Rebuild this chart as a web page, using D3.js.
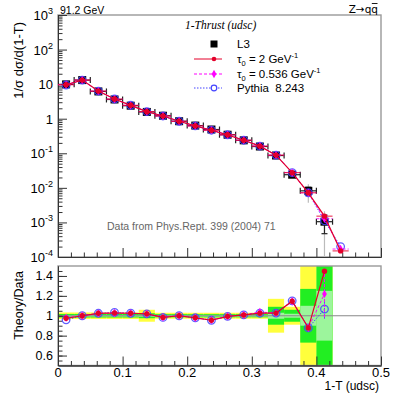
<!DOCTYPE html>
<html>
<head>
<meta charset="utf-8">
<script src="https://cdn.jsdelivr.net/npm/d3@7"></script>
<style>
  body { margin: 0; background: #fff; }
  text { font-family: "Liberation Sans", Arial, sans-serif; fill: #000; }
</style>
</head>
<body>
<div id="chart"></div>
<script>
// bin centres of 1-T (bin width 0.025)
const binCentres = [0.0125, 0.0375, 0.0625, 0.0875, 0.1125, 0.1375, 0.1625, 0.1875, 0.2125,
  0.2375, 0.2625, 0.2875, 0.3125, 0.3375, 0.3625, 0.3875, 0.4125];
const theoryCentres = binCentres.concat([0.4375]);
const binWidth = 0.025;

// L3 data
const dataValues = [9.85, 13.1, 6.15, 3.6, 2.38, 1.57, 1.22, 0.845, 0.633,
  0.487, 0.344, 0.237, 0.157, 0.0862, 0.024, 0.0082, 0.00105];
// relative uncertainty bands (inner / middle / outer)
const errInner = [0.008, 0.008, 0.008, 0.008, 0.008, 0.01, 0.008, 0.008, 0.008,
  0.008, 0.008, 0.008, 0.008, 0.03, 0.02, 0.1, 0.25];
const errMid = [0.018, 0.018, 0.018, 0.018, 0.018, 0.025, 0.016, 0.016, 0.016,
  0.016, 0.016, 0.016, 0.016, 0.09, 0.06, 0.27, 0.55];
const errOuter = [0.033, 0.033, 0.033, 0.033, 0.033, 0.06, 0.03, 0.03, 0.03,
  0.03, 0.03, 0.03, 0.03, 0.17, 0.09, 0.55, 1.0];

// predictions
const tau2 = [9.6, 13.1, 6.3, 3.7, 2.44, 1.6, 1.2, 0.845, 0.62,
  0.465, 0.342, 0.239, 0.161, 0.0885, 0.0275, 0.0072, 0.00152, 0.00015];
const tau0536 = [9.65, 13.1, 6.3, 3.7, 2.44, 1.6, 1.2, 0.845, 0.62,
  0.466, 0.342, 0.239, 0.163, 0.0885, 0.0275, 0.0072, 0.00128, 0.00017];
const pythia = [9.45, 13.1, 6.3, 3.72, 2.44, 1.6, 1.2, 0.845, 0.62,
  0.465, 0.342, 0.239, 0.161, 0.0885, 0.0276, 0.0072, 0.00112, 0.0002];
// ratio-panel error bars of the predictions
const tau0536Err = [0, 0, 0, 0, 0, 0, 0, 0, 0, 0, 0, 0, 0, 0, 0, 0, 0.25];
const pythiaErr = [0, 0, 0, 0, 0, 0, 0, 0, 0, 0, 0, 0, 0, 0, 0, 0, 0.1];

const mainYTicks = [1e3, 1e2, 1e1, 1, 1e-1, 1e-2, 1e-3, 1e-4];
const mainYLabels = [['10', '3'], ['10', '2'], ['10', ''], ['1', ''], ['10', '-1'], ['10', '-2'], ['10', '-3'], ['10', '-4']];
const xTicks = [0, 0.1, 0.2, 0.3, 0.4, 0.5];
const xTickLabels = ['0', '0.1', '0.2', '0.3', '0.4', '0.5'];
const ratioTicks = [1.4, 1.2, 1, 0.8, 0.6];
const ratioTickLabels = ['1.4', '1.2', '1', '0.8', '0.6'];

const width = 399;
const height = 399;
const left = 58;
const right = 381;
const mainTop = 15;
const mainBottom = 257;
const ratioTop = 266;
const ratioBottom = 365.5;

const red = '#e4002b';
const magenta = '#ff00ff';
const blue = '#4444ff';

const svg = d3.select('#chart').append('svg')
  .attr('width', width)
  .attr('height', height);

const x = d3.scaleLinear().domain([0, 0.5]).range([left, right]);
const y = d3.scaleLog().domain([1e-4, 1e3]).range([mainBottom, mainTop]);
const yr = d3.scaleLinear().domain([0.5, 1.5]).range([ratioBottom, ratioTop]);

svg.append('clipPath').attr('id', 'clipMain')
  .append('rect').attr('x', left).attr('y', mainTop)
  .attr('width', right - left).attr('height', mainBottom - mainTop);
svg.append('clipPath').attr('id', 'clipRatio')
  .append('rect').attr('x', left).attr('y', ratioTop)
  .attr('width', right - left).attr('height', ratioBottom - ratioTop);

/* ---------- ratio panel bands ---------- */
const ratioG = svg.append('g').attr('clip-path', 'url(#clipRatio)');
const bandDefs = [[errOuter, '#ffff3c'], [errMid, '#22ee22'], [errInner, '#9cf59c']];
bandDefs.forEach(([errs, col]) => {
  ratioG.selectAll(null).data(binCentres).enter().append('rect')
    .attr('x', (d) => x(d - binWidth / 2))
    .attr('width', x(binWidth) - x(0))
    .attr('y', (d, i) => yr(1 + errs[i]))
    .attr('height', (d, i) => yr(1 - errs[i]) - yr(1 + errs[i]))
    .attr('fill', col);
});
ratioG.append('line')
  .attr('x1', left).attr('x2', right).attr('y1', yr(1)).attr('y2', yr(1))
  .attr('stroke', '#888').attr('stroke-width', 1);

/* ---------- frames ---------- */
[[mainTop, mainBottom], [ratioTop, ratioBottom]].forEach(([t, b]) => {
  svg.append('rect').attr('x', left).attr('y', t)
    .attr('width', right - left).attr('height', b - t)
    .attr('fill', 'none').attr('stroke', '#999').attr('stroke-width', 1.4);
});

/* ---------- axes ---------- */
function minorLog() {
  const out = [];
  for (let e = -4; e < 3; e += 1) {
    for (let k = 2; k <= 9; k += 1) out.push(k * 10 ** e);
  }
  return out;
}
function tickAxis(axis, tx, ty) {
  const g = svg.append('g').attr('transform', `translate(${tx},${ty})`).call(axis);
  g.select('.domain').attr('stroke', '#333');
  g.selectAll('.tick line').attr('stroke', '#333');
  return g;
}
tickAxis(d3.axisRight(y).tickValues(mainYTicks).tickSize(9).tickSizeOuter(0).tickFormat(''), left, 0);
tickAxis(d3.axisRight(y).tickValues(minorLog()).tickSize(4.5).tickSizeOuter(0).tickFormat(''), left, 0);
const xMinor = d3.range(0.02, 0.5, 0.02).filter((v) => Math.abs(v * 10 - Math.round(v * 10)) > 1e-6);
[mainBottom, ratioBottom].forEach((b) => {
  tickAxis(d3.axisTop(x).tickValues(xTicks).tickSize(9).tickSizeOuter(0).tickFormat(''), 0, b);
  tickAxis(d3.axisTop(x).tickValues(xMinor).tickSize(4.5).tickSizeOuter(0).tickFormat(''), 0, b);
});
tickAxis(d3.axisRight(yr).tickValues(ratioTicks).tickSize(9).tickSizeOuter(0).tickFormat(''), left, 0);
tickAxis(d3.axisRight(yr).tickValues(d3.range(0.55, 1.5, 0.05)).tickSize(4.5).tickSizeOuter(0).tickFormat(''), left, 0);

// tick labels
mainYTicks.forEach((v, i) => {
  const t = svg.append('text').attr('x', 53).attr('y', y(v) + 5)
    .attr('text-anchor', 'end').style('font-size', '13px');
  t.append('tspan').text(mainYLabels[i][0]);
  if (mainYLabels[i][1]) {
    t.append('tspan').attr('dy', -6).style('font-size', '9px').text(mainYLabels[i][1]);
  }
});
ratioTicks.forEach((v, i) => {
  svg.append('text').attr('x', 53).attr('y', yr(v) + 4.5)
    .attr('text-anchor', 'end').style('font-size', '12.5px').text(ratioTickLabels[i]);
});
xTicks.forEach((v, i) => {
  svg.append('text').attr('x', x(v)).attr('y', 376.5)
    .attr('text-anchor', 'middle').style('font-size', '13px').text(xTickLabels[i]);
});

// titles
svg.append('text').attr('transform', 'translate(23,22) rotate(-90)')
  .attr('text-anchor', 'end').style('font-size', '13px').text('1/σ dσ/d(1-T)');
svg.append('text').attr('transform', 'translate(23,271) rotate(-90)')
  .attr('text-anchor', 'end').style('font-size', '12.5px').text('Theory/Data');
svg.append('text').attr('x', 379).attr('y', 389.5)
  .attr('text-anchor', 'end').style('font-size', '12px').text('1-T (udsc)');
svg.append('text').attr('x', 60).attr('y', 13.5).style('font-size', '10.5px').text('91.2 GeV');
const zt = svg.append('text').attr('x', 378).attr('y', 13).attr('text-anchor', 'end')
  .style('font-family', '"DejaVu Sans", sans-serif').style('font-size', '10.5px').text('Z→qq');
const qLen = zt.node().getSubStringLength(3, 1);
svg.append('line').attr('x1', 378 - qLen + 0.5).attr('x2', 378 - 0.5)
  .attr('y1', 3.5).attr('y2', 3.5).attr('stroke', '#000').attr('stroke-width', 0.9);
svg.append('text').attr('x', 185).attr('y', 29)
  .style('font-family', '"Liberation Serif", serif').style('font-style', 'italic')
  .style('font-size', '11.5px').text('1-Thrust (udsc)');
svg.append('text').attr('x', 107).attr('y', 230).style('font-size', '10.5px')
  .style('fill', '#666').text('Data from Phys.Rept. 399 (2004) 71');

/* ---------- main panel ---------- */
const mainG = svg.append('g').attr('clip-path', 'url(#clipMain)');
const half = x(binWidth / 2) - x(0);
const safeY = (v) => (v > 1e-5 ? y(v) : mainBottom + 10);

// total error (gray)
mainG.selectAll(null).data(binCentres).enter().append('line')
  .attr('x1', (d) => x(d)).attr('x2', (d) => x(d))
  .attr('y1', (d, i) => safeY(dataValues[i] * (1 + errOuter[i])))
  .attr('y2', (d, i) => safeY(dataValues[i] * (1 - errOuter[i])))
  .attr('stroke', '#bbb').attr('stroke-width', 1.2);
// stat error (black) with caps
const errG = mainG.append('g').attr('stroke', '#222').attr('stroke-width', 1.2);
binCentres.forEach((d, i) => {
  const cx = x(d);
  const cy = y(dataValues[i]);
  const y1 = safeY(dataValues[i] * (1 + errMid[i]));
  const y2 = safeY(dataValues[i] * (1 - errMid[i]));
  errG.append('line').attr('x1', cx).attr('x2', cx).attr('y1', y1).attr('y2', y2);
  errG.append('line').attr('x1', cx - 3).attr('x2', cx + 3).attr('y1', y1).attr('y2', y1);
  errG.append('line').attr('x1', cx - 3).attr('x2', cx + 3).attr('y1', y2).attr('y2', y2);
  errG.append('line').attr('x1', cx - half).attr('x2', cx + half).attr('y1', cy).attr('y2', cy);
  errG.append('line').attr('x1', cx - half).attr('x2', cx - half).attr('y1', cy - 3).attr('y2', cy + 3);
  errG.append('line').attr('x1', cx + half).attr('x2', cx + half).attr('y1', cy - 3).attr('y2', cy + 3);
});
mainG.selectAll(null).data(binCentres).enter().append('rect')
  .attr('x', (d) => x(d) - 4).attr('y', (d, i) => y(dataValues[i]) - 4)
  .attr('width', 8).attr('height', 8).attr('fill', '#000');

const line = (yScale, vals) => d3.line()
  .x((d) => x(d))
  .y((d, i) => yScale(vals[i]));

function drawSeries(g, yScale, xs, vals, errs, opts) {
  const sg = g.append('g');
  sg.append('path').datum(xs)
    .attr('d', line(yScale, vals))
    .attr('fill', 'none').attr('stroke', opts.color).attr('stroke-width', opts.width)
    .attr('stroke-dasharray', opts.dash);
  if (opts.hbars) {
    xs.forEach((d, i) => {
      const cy = yScale(vals[i]);
      sg.append('line').attr('x1', x(d) - half).attr('x2', x(d) + half).attr('y1', cy).attr('y2', cy)
        .attr('stroke', opts.color).attr('stroke-width', 0.9).attr('stroke-dasharray', opts.dash);
    });
  }
  if (errs) {
    xs.forEach((d, i) => {
      if (!errs[i]) return;
      sg.append('line').attr('x1', x(d)).attr('x2', x(d))
        .attr('y1', yScale(vals[i] + errs[i])).attr('y2', yScale(vals[i] - errs[i]))
        .attr('stroke', opts.color).attr('stroke-width', 1).attr('stroke-dasharray', opts.dash);
    });
  }
  const pts = sg.selectAll(null).data(xs).enter();
  if (opts.marker === 'circle') {
    pts.append('circle').attr('cx', (d) => x(d)).attr('cy', (d, i) => yScale(vals[i]))
      .attr('r', 2.7).attr('fill', red);
  } else if (opts.marker === 'open') {
    pts.append('circle').attr('cx', (d) => x(d)).attr('cy', (d, i) => yScale(vals[i]))
      .attr('r', 3.8).attr('fill', 'none').attr('stroke', opts.color).attr('stroke-width', 1.3)
      .attr('stroke-opacity', 0.85);
  } else {
    pts.append('path')
      .attr('transform', (d, i) => `translate(${x(d)},${yScale(vals[i])})`)
      .attr('d', d3.symbol(d3.symbolDiamond, 20))
      .attr('fill', opts.color);
  }
}

drawSeries(mainG, y, theoryCentres, pythia, null,
  { color: blue, width: 1, dash: '1.5,1.5', marker: 'open', hbars: false });
drawSeries(mainG, y, theoryCentres, tau0536, null,
  { color: magenta, width: 1, dash: '3,2', marker: 'diamond', hbars: true });
drawSeries(mainG, y, theoryCentres, tau2, null,
  { color: red, width: 1.2, dash: null, marker: 'circle', hbars: true });

/* ---------- ratio panel points ---------- */
const ratioOf = (vals) => binCentres.map((d, i) => vals[i] / dataValues[i]);
const rG = svg.append('g').attr('clip-path', 'url(#clipRatio)');
drawSeries(rG, yr, binCentres, ratioOf(pythia), pythiaErr,
  { color: blue, width: 1, dash: '1.5,1.5', marker: 'open', hbars: false });
drawSeries(rG, yr, binCentres, ratioOf(tau0536), tau0536Err,
  { color: magenta, width: 1, dash: '3,2', marker: 'diamond', hbars: false });
drawSeries(rG, yr, binCentres, ratioOf(tau2), null,
  { color: red, width: 1.2, dash: null, marker: 'circle', hbars: false });

/* ---------- legend ---------- */
const legendRows = [44, 59, 74, 88];
const lg = svg.append('g');
lg.append('rect').attr('x', 210.5).attr('y', legendRows[0] - 3.5).attr('width', 7).attr('height', 7).attr('fill', '#000');
lg.append('line').attr('x1', 194).attr('x2', 222).attr('y1', legendRows[1]).attr('y2', legendRows[1])
  .attr('stroke', red).attr('stroke-width', 1);
lg.append('circle').attr('cx', 214).attr('cy', legendRows[1]).attr('r', 2.3).attr('fill', red);
lg.append('line').attr('x1', 194).attr('x2', 222).attr('y1', legendRows[2]).attr('y2', legendRows[2])
  .attr('stroke', magenta).attr('stroke-width', 1).attr('stroke-dasharray', '3,2');
lg.append('path').attr('transform', `translate(214,${legendRows[2]})`)
  .attr('d', d3.symbol(d3.symbolDiamond, 20)).attr('fill', magenta);
lg.append('line').attr('x1', 194).attr('x2', 222).attr('y1', legendRows[3]).attr('y2', legendRows[3])
  .attr('stroke', blue).attr('stroke-width', 1).attr('stroke-dasharray', '1.5,1.5');
lg.append('circle').attr('cx', 214).attr('cy', legendRows[3]).attr('r', 2.8)
  .attr('fill', '#fff').attr('stroke', blue).attr('stroke-width', 1.2);

const legText = (row) => lg.append('text').attr('x', 237).attr('y', legendRows[row] + 4.3).style('font-size', '11.5px');
legText(0).text('L3');
[['2'], ['0.536']].forEach(([val], k) => {
  const t = legText(k + 1);
  t.append('tspan').text('τ');
  t.append('tspan').attr('dy', 2.5).style('font-size', '7.5px').text('0');
  t.append('tspan').attr('dy', -2.5).text(` = ${val} GeV`);
  t.append('tspan').attr('dy', -5).style('font-size', '7.5px').text('-1');
});
legText(3).attr('xml:space', 'preserve').text('Pythia  8.243');
</script>
</body>
</html>
